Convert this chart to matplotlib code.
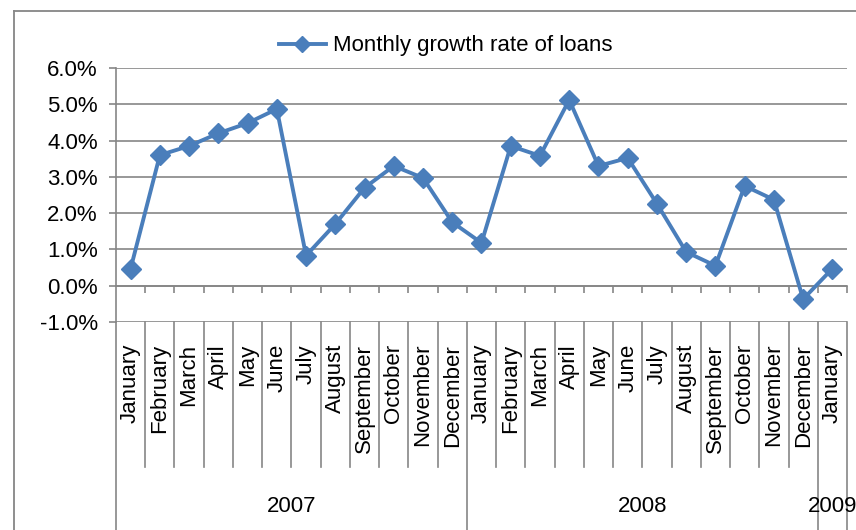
import matplotlib
matplotlib.use("Agg")
import matplotlib.pyplot as plt
from matplotlib.lines import Line2D
from matplotlib.ticker import FuncFormatter, FixedLocator
from matplotlib.transforms import blended_transform_factory

plt.rcParams["font.family"] = ["Liberation Sans", "DejaVu Sans"]

months = ["January", "February", "March", "April", "May", "June", "July",
          "August", "September", "October", "November", "December",
          "January", "February", "March", "April", "May", "June", "July",
          "August", "September", "October", "November", "December",
          "January"]
years = ["2007", "2008", "2009"]
months_per_year = [12, 12, 1]
growth = [0.47, 3.60, 3.85, 4.20, 4.48, 4.87, 0.83, 1.70, 2.70, 3.30, 2.97,
          1.75, 1.18, 3.85, 3.58, 5.12, 3.30, 3.52, 2.26, 0.93, 0.55, 2.75,
          2.37, -0.37, 0.47]

W, H = 856, 530
fig = plt.figure(figsize=(W / 100, H / 100), dpi=100)
ax = fig.add_axes([116 / W, (H - 322) / H, (847 - 116) / W, (322 - 68) / H])

gray = "#868686"
blue = "#4A7EBB"
fs = 16

x = list(range(len(growth)))
line, = ax.plot(x, growth, color=blue, lw=2.8, marker="D", ms=10,
                label="Monthly growth rate of loans", zorder=3)

ax.set_xlim(-0.5, len(growth) - 0.5)
ax.set_ylim(-1, 6)
ax.yaxis.set_major_locator(FixedLocator(range(-1, 7)))
ax.yaxis.set_major_formatter(FuncFormatter(lambda v, p: f"{v:.1f}%"))
ax.grid(axis="y", color=gray, lw=1.2)
ax.set_axisbelow(True)

for s in ["top", "right"]:
    ax.spines[s].set_visible(False)
ax.spines["left"].set_color(gray)
ax.spines["left"].set_linewidth(1.2)
ax.spines["bottom"].set_position(("data", 0))
ax.spines["bottom"].set_color(gray)
ax.spines["bottom"].set_linewidth(1.2)

ax.set_xticks([i + 0.5 for i in range(len(growth))])
ax.set_xticklabels([])
ax.tick_params(axis="x", direction="out", length=5, width=1.2, color=gray)
ax.tick_params(axis="y", direction="out", length=5, width=1.2, color=gray,
               labelsize=fs, pad=8)

# multi-level category labels below the plot area
tr = blended_transform_factory(ax.transData, ax.transAxes)
ah = 322 - 68
sep_bottom = -(467 - 322) / ah
bottom = -(H - 322) / ah - 0.05

for i, m in enumerate(months):
    ax.text(i, -(344 - 322) / ah, m, rotation=90, ha="center", va="top",
            fontsize=fs, transform=tr, clip_on=False)

year_edges = [-0.5]
for n in months_per_year:
    year_edges.append(year_edges[-1] + n)

for i in range(len(growth) + 1):
    xb = i - 0.5
    y0 = bottom if xb in year_edges else sep_bottom
    ax.add_line(Line2D([xb, xb], [0, y0], color=gray, lw=1.2,
                       transform=tr, clip_on=False))

for k, yr in enumerate(years):
    xc = (year_edges[k] + year_edges[k + 1]) / 2
    ax.text(xc, -(507 - 322) / ah, yr, ha="center", va="center",
            fontsize=fs, transform=tr, clip_on=False)

# outer chart border (cropped on right and bottom)
fig.add_artist(Line2D([14 / W, 14 / W], [0, 1 - 11 / H], color=gray, lw=1.3,
                      transform=fig.transFigure))
fig.add_artist(Line2D([14 / W, 1], [1 - 11 / H, 1 - 11 / H], color=gray,
                      lw=1.3, transform=fig.transFigure))

fig.legend(handles=[line], loc="center", bbox_to_anchor=(446 / W, 1 - 46 / H),
           frameon=False, fontsize=fs, handlelength=2.1, handletextpad=0.35,
           markerscale=0.85)

fig.savefig("out.png", dpi=100)
